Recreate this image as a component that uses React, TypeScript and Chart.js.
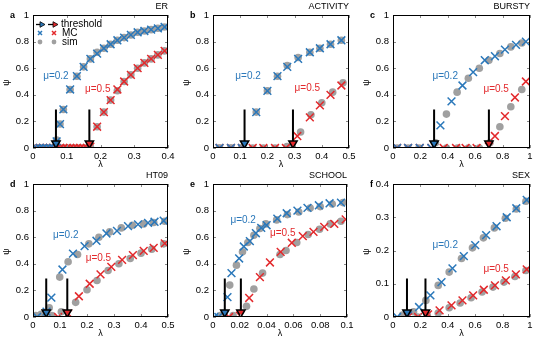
import React, { useEffect, useRef } from 'react';
import { Chart, registerables } from 'chart.js';
Chart.register(...registerables);

const BLUE = '#2b78ba';
const RED = '#e3292c';
const GREY = '#a0a0a0';
const FONT = "'Liberation Sans', Arial, Helvetica, sans-serif";

// ---------- tick labels ----------
const yTicksUnit = [0, 0.2, 0.4, 0.6, 0.8, 1];
const yTicksSex = [0, 0.1, 0.2, 0.3, 0.4];
const erXTicks = [0, 0.1, 0.2, 0.3, 0.4];
const acXTicks = [0, 0.1, 0.2, 0.3, 0.4, 0.5];
const buXTicks = [0, 0.2, 0.4, 0.6, 0.8, 1];
const htXTicks = [0, 0.1, 0.2, 0.3, 0.4, 0.5];
const scXTicks = [0, 0.02, 0.04, 0.06, 0.08, 0.1];
const sxXTicks = [0, 0.2, 0.4, 0.6, 0.8, 1];

// ---------- a: ER ----------
const erBlueMcX = [0.01, 0.02, 0.03, 0.04, 0.05, 0.06, 0.07, 0.08, 0.09, 0.11, 0.13, 0.15, 0.17, 0.19, 0.21, 0.23, 0.25, 0.27, 0.29, 0.31, 0.33, 0.35, 0.37, 0.39];
const erBlueMc = [0, 0, 0, 0, 0, 0, 0.05, 0.18, 0.29, 0.44, 0.54, 0.61, 0.67, 0.71, 0.75, 0.78, 0.81, 0.83, 0.85, 0.87, 0.88, 0.89, 0.9, 0.91];
const erBlueSimX = [0.01, 0.02, 0.03, 0.04, 0.05, 0.06, 0.07, 0.08, 0.09, 0.11, 0.13, 0.15, 0.17, 0.19, 0.21, 0.23, 0.25, 0.27, 0.29, 0.31, 0.33, 0.35, 0.37, 0.39];
const erBlueSim = [0, 0, 0, 0, 0, 0, 0.06, 0.18, 0.29, 0.44, 0.54, 0.61, 0.67, 0.72, 0.75, 0.78, 0.81, 0.83, 0.85, 0.87, 0.88, 0.89, 0.9, 0.91];
const erRedMcX = [0.01, 0.02, 0.03, 0.04, 0.05, 0.06, 0.07, 0.08, 0.09, 0.1, 0.11, 0.12, 0.13, 0.14, 0.15, 0.16, 0.17, 0.19, 0.21, 0.23, 0.25, 0.27, 0.29, 0.31, 0.33, 0.35, 0.37, 0.39];
const erRedMc = [0, 0, 0, 0, 0, 0, 0, 0, 0, 0, 0, 0, 0, 0, 0, 0, 0.01, 0.16, 0.27, 0.36, 0.44, 0.5, 0.55, 0.6, 0.64, 0.67, 0.7, 0.73];
const erRedSimX = [0.01, 0.02, 0.03, 0.04, 0.05, 0.06, 0.07, 0.08, 0.09, 0.1, 0.11, 0.12, 0.13, 0.14, 0.15, 0.16, 0.17, 0.19, 0.21, 0.23, 0.25, 0.27, 0.29, 0.31, 0.33, 0.35, 0.37, 0.39];
const erRedSim = [0, 0, 0, 0, 0, 0, 0, 0, 0, 0, 0, 0, 0, 0, 0, 0, 0.01, 0.16, 0.27, 0.36, 0.43, 0.5, 0.55, 0.6, 0.64, 0.67, 0.7, 0.73];
const erThreshold = [0.068, 0.167];

// ---------- b: ACTIVITY ----------
const acBlueMcX = [0.024, 0.066, 0.106, 0.159, 0.2, 0.237, 0.273, 0.313, 0.356, 0.393, 0.432, 0.472];
const acBlueMc = [0, 0, 0, 0.27, 0.43, 0.54, 0.61, 0.67, 0.72, 0.75, 0.78, 0.81];
const acBlueSimX = [0.024, 0.066, 0.106, 0.159, 0.2, 0.237, 0.273, 0.313, 0.356, 0.393, 0.432, 0.472];
const acBlueSim = [0, 0, 0, 0.27, 0.43, 0.54, 0.62, 0.68, 0.72, 0.75, 0.78, 0.81];
const acRedMcX = [0.024, 0.066, 0.106, 0.146, 0.185, 0.228, 0.268, 0.31, 0.356, 0.393, 0.432, 0.472];
const acRedMc = [0, 0, 0, 0, 0, 0, 0, 0.09, 0.23, 0.32, 0.4, 0.47];
const acRedSimX = [0.024, 0.066, 0.106, 0.146, 0.185, 0.228, 0.272, 0.322, 0.36, 0.4, 0.44, 0.478];
const acRedSim = [0, 0, 0, 0, 0, 0, 0.01, 0.12, 0.25, 0.34, 0.42, 0.49];
const acThreshold = [0.116, 0.294];

// ---------- c: BURSTY ----------
const buBlueMcX = [0.03, 0.11, 0.195, 0.28, 0.346, 0.427, 0.507, 0.585, 0.67, 0.744, 0.817, 0.898, 0.97];
const buBlueMc = [0, 0, 0, 0, 0.17, 0.35, 0.47, 0.57, 0.66, 0.69, 0.74, 0.775, 0.8];
const buBlueSimX = [0.03, 0.11, 0.19, 0.31, 0.39, 0.468, 0.55, 0.63, 0.7, 0.78, 0.86, 0.94];
const buBlueSim = [0, 0, 0, 0.04, 0.255, 0.42, 0.525, 0.6, 0.66, 0.71, 0.76, 0.79];
const buRedMcX = [0.03, 0.11, 0.195, 0.28, 0.37, 0.46, 0.53, 0.61, 0.7, 0.744, 0.817, 0.89, 0.97];
const buRedMc = [0, 0, 0, 0, 0, 0, 0, 0, 0.01, 0.09, 0.24, 0.38, 0.5];
const buRedSimX = [0.39, 0.47, 0.55, 0.63, 0.707, 0.78, 0.86, 0.94];
const buRedSim = [0, 0, 0, 0, 0.04, 0.16, 0.31, 0.44];
const buThreshold = [0.3, 0.7];

// ---------- d: HT09 ----------
const htBlueMcX = [0.015, 0.05, 0.068, 0.109, 0.148, 0.191, 0.235, 0.272, 0.311, 0.352, 0.389, 0.426, 0.45, 0.484];
const htBlueMc = [0, 0.04, 0.146, 0.357, 0.477, 0.533, 0.573, 0.628, 0.648, 0.683, 0.696, 0.708, 0.716, 0.724];
const htBlueSimX = [0.01, 0.03, 0.06, 0.099, 0.13, 0.165, 0.207, 0.244, 0.284, 0.327, 0.368, 0.41, 0.447, 0.488];
const htBlueSim = [0.01, 0.02, 0.07, 0.3, 0.415, 0.47, 0.55, 0.6, 0.64, 0.67, 0.69, 0.7, 0.71, 0.72];
const htRedMcX = [0.093, 0.13, 0.17, 0.21, 0.25, 0.29, 0.33, 0.37, 0.41, 0.447, 0.488];
const htRedMc = [0, 0.025, 0.156, 0.25, 0.32, 0.377, 0.43, 0.465, 0.497, 0.52, 0.553];
const htRedSimX = [0.07, 0.105, 0.158, 0.2, 0.237, 0.278, 0.318, 0.36, 0.4, 0.44, 0.484];
const htRedSim = [0.01, 0.04, 0.11, 0.205, 0.275, 0.35, 0.4, 0.44, 0.48, 0.51, 0.55];
const htThreshold = [0.049, 0.127];

// ---------- e: SCHOOL ----------
const scBlueMcX = [0.001, 0.004, 0.0108, 0.0138, 0.0195, 0.023, 0.0275, 0.032, 0.036, 0.04, 0.048, 0.055, 0.063, 0.0705, 0.079, 0.087, 0.0955];
const scBlueMc = [0, 0, 0.15, 0.33, 0.44, 0.53, 0.57, 0.63, 0.67, 0.69, 0.74, 0.78, 0.8, 0.82, 0.84, 0.855, 0.86];
const scBlueSimX = [0.0055, 0.0125, 0.0175, 0.022, 0.026, 0.0305, 0.035, 0.0395, 0.0475, 0.0555, 0.064, 0.0725, 0.08, 0.089, 0.097];
const scBlueSim = [0.01, 0.24, 0.39, 0.49, 0.56, 0.615, 0.665, 0.7, 0.73, 0.77, 0.79, 0.82, 0.83, 0.85, 0.86];
const scRedMcX = [0.012, 0.02, 0.027, 0.035, 0.0425, 0.0505, 0.0588, 0.067, 0.075, 0.083, 0.0905, 0.099];
const scRedMc = [0, 0.01, 0.143, 0.3, 0.41, 0.49, 0.558, 0.608, 0.64, 0.678, 0.7, 0.734];
const scRedSimX = [0.015, 0.025, 0.0305, 0.037, 0.05, 0.0545, 0.0625, 0.071, 0.0795, 0.0875, 0.0955];
const scRedSim = [0.01, 0.08, 0.21, 0.33, 0.47, 0.5, 0.56, 0.62, 0.66, 0.7, 0.72];
const scThreshold = [0.0088, 0.0208];

// ---------- f: SEX ----------
const sxBlueMcX = [0.03, 0.11, 0.19, 0.273, 0.354, 0.434, 0.517, 0.6, 0.68, 0.756, 0.83, 0.9, 0.976];
const sxBlueMc = [0, 0.005, 0.03, 0.065, 0.105, 0.146, 0.183, 0.216, 0.246, 0.273, 0.3, 0.327, 0.352];
const sxBlueSimX = [0.07, 0.15, 0.24, 0.33, 0.41, 0.5, 0.58, 0.66, 0.74, 0.82, 0.9, 0.97];
const sxBlueSim = [0.006, 0.016, 0.05, 0.095, 0.135, 0.176, 0.208, 0.238, 0.268, 0.297, 0.325, 0.348];
const sxRedMcX = [0.11, 0.183, 0.256, 0.34, 0.427, 0.507, 0.585, 0.663, 0.744, 0.824, 0.897, 0.976];
const sxRedMc = [0, 0, 0.008, 0.02, 0.035, 0.05, 0.065, 0.082, 0.095, 0.11, 0.128, 0.143];
const sxRedSimX = [0.18, 0.25, 0.33, 0.41, 0.49, 0.57, 0.65, 0.73, 0.81, 0.89, 0.97];
const sxRedSim = [0, 0.005, 0.012, 0.028, 0.042, 0.058, 0.075, 0.09, 0.105, 0.122, 0.14];
const sxThreshold = [0.102, 0.237];

const muLabels = ['μ=0.2', 'μ=0.5'];

type PanelDef = {
  letter: string; name: string; left: number; top: number;
  xMax: number; yMax: number; xTicks: number[]; yTicks: number[];
  blueMcX: number[]; blueMc: number[]; blueSimX: number[]; blueSim: number[];
  redMcX: number[]; redMc: number[]; redSimX: number[]; redSim: number[];
  thr: number[]; lab: number[][]; legend?: boolean;
  padTop: number; padRight: number; xH: number;
};

const panels: PanelDef[] = [
  { letter: 'a', name: 'ER', left: 0, top: 0, xMax: 0.4, yMax: 1, xTicks: erXTicks, yTicks: yTicksUnit,
    blueMcX: erBlueMcX, blueMc: erBlueMc, blueSimX: erBlueSimX, blueSim: erBlueSim,
    redMcX: erRedMcX, redMc: erRedMc, redSimX: erRedSimX, redSim: erRedSim,
    thr: erThreshold, lab: [[0.03, 0.54], [0.154, 0.44]], legend: true, padTop: 15, padRight: 12, xH: 22 },
  { letter: 'b', name: 'ACTIVITY', left: 180, top: 0, xMax: 0.5, yMax: 1, xTicks: acXTicks, yTicks: yTicksUnit,
    blueMcX: acBlueMcX, blueMc: acBlueMc, blueSimX: acBlueSimX, blueSim: acBlueSim,
    redMcX: acRedMcX, redMc: acRedMc, redSimX: acRedSimX, redSim: acRedSim,
    thr: acThreshold, lab: [[0.082, 0.54], [0.3, 0.45]], padTop: 15, padRight: 11, xH: 22 },
  { letter: 'c', name: 'BURSTY', left: 360, top: 0, xMax: 1, yMax: 1, xTicks: buXTicks, yTicks: yTicksUnit,
    blueMcX: buBlueMcX, blueMc: buBlueMc, blueSimX: buBlueSimX, blueSim: buBlueSim,
    redMcX: buRedMcX, redMc: buRedMc, redSimX: buRedSimX, redSim: buRedSim,
    thr: buThreshold, lab: [[0.288, 0.54], [0.66, 0.44]], padTop: 15, padRight: 10, xH: 22 },
  { letter: 'd', name: 'HT09', left: 0, top: 170, xMax: 0.5, yMax: 1, xTicks: htXTicks, yTicks: yTicksUnit,
    blueMcX: htBlueMcX, blueMc: htBlueMc, blueSimX: htBlueSimX, blueSim: htBlueSim,
    redMcX: htRedMcX, redMc: htRedMc, redSimX: htRedSimX, redSim: htRedSim,
    thr: htThreshold, lab: [[0.074, 0.615], [0.195, 0.44]], padTop: 14, padRight: 12, xH: 23 },
  { letter: 'e', name: 'SCHOOL', left: 180, top: 170, xMax: 0.1, yMax: 1, xTicks: scXTicks, yTicks: yTicksUnit,
    blueMcX: scBlueMcX, blueMc: scBlueMc, blueSimX: scBlueSimX, blueSim: scBlueSim,
    redMcX: scRedMcX, redMc: scRedMc, redSimX: scRedSimX, redSim: scRedSim,
    thr: scThreshold, lab: [[0.013, 0.73], [0.0425, 0.63]], padTop: 14, padRight: 13, xH: 23 },
  { letter: 'f', name: 'SEX', left: 360, top: 170, xMax: 1, yMax: 0.4, xTicks: sxXTicks, yTicks: yTicksSex,
    blueMcX: sxBlueMcX, blueMc: sxBlueMc, blueSimX: sxBlueSimX, blueSim: sxBlueSim,
    redMcX: sxRedMcX, redMc: sxRedMc, redSimX: sxRedSimX, redSim: sxRedSim,
    thr: sxThreshold, lab: [[0.288, 0.216], [0.66, 0.144]], padTop: 14, padRight: 10, xH: 23 },
];

const pts = (xs: number[], ys: number[]) => xs.map((x, i) => ({ x, y: ys[i] }));

function drawArrowRight(ctx: CanvasRenderingContext2D, x0: number, x1: number, y: number, col: string) {
  ctx.strokeStyle = '#000';
  ctx.lineWidth = 1.3;
  ctx.beginPath();
  ctx.moveTo(x0, y);
  ctx.lineTo(x1 - 4, y);
  ctx.stroke();
  ctx.fillStyle = col;
  ctx.lineWidth = 0.8;
  ctx.beginPath();
  ctx.moveTo(x1, y);
  ctx.lineTo(x1 - 5, y - 2.8);
  ctx.lineTo(x1 - 5, y + 2.8);
  ctx.closePath();
  ctx.fill();
  ctx.stroke();
}

function drawCross(ctx: CanvasRenderingContext2D, x: number, y: number, r: number, col: string) {
  ctx.strokeStyle = col;
  ctx.lineWidth = 1.5;
  ctx.beginPath();
  ctx.moveTo(x - r, y - r); ctx.lineTo(x + r, y + r);
  ctx.moveTo(x + r, y - r); ctx.lineTo(x - r, y + r);
  ctx.stroke();
}

function makeDeco(p: PanelDef) {
  return {
    id: 'deco' + p.letter,
    afterDatasetsDraw(chart: any) {
      const { ctx, chartArea: ca, scales } = chart;
      const xs = scales.x, ys = scales.y;
      ctx.save();
      ctx.strokeStyle = '#8a8a8a';
      ctx.lineWidth = 1;
      ctx.beginPath();
      p.xTicks.forEach((v) => {
        const px = Math.round(xs.getPixelForValue(v)) + 0.5;
        ctx.moveTo(px, ca.bottom); ctx.lineTo(px, ca.bottom - 3);
        ctx.moveTo(px, ca.top); ctx.lineTo(px, ca.top + 3);
      });
      p.yTicks.forEach((v) => {
        const py = Math.round(ys.getPixelForValue(v)) + 0.5;
        ctx.moveTo(ca.left, py); ctx.lineTo(ca.left + 3, py);
        ctx.moveTo(ca.right, py); ctx.lineTo(ca.right - 3, py);
      });
      ctx.stroke();
      ctx.strokeStyle = '#000';
      ctx.lineWidth = 1;
      ctx.strokeRect(ca.left + 0.5, ca.top + 0.5, ca.right - ca.left - 1, ca.bottom - ca.top - 1);
      ctx.restore();
    },
    afterDraw(chart: any) {
      const { ctx, chartArea: ca, scales } = chart;
      const xs = scales.x, ys = scales.y;
      ctx.save();
      ctx.font = `10px ${FONT}`;
      ctx.textAlign = 'left';
      ctx.textBaseline = 'middle';
      ctx.fillStyle = BLUE;
      ctx.fillText(muLabels[0], xs.getPixelForValue(p.lab[0][0]), ys.getPixelForValue(p.lab[0][1]));
      ctx.fillStyle = RED;
      ctx.fillText(muLabels[1], xs.getPixelForValue(p.lab[1][0]), ys.getPixelForValue(p.lab[1][1]));
      ctx.fillStyle = '#000';
      ctx.font = `9px ${FONT}`;
      ctx.textAlign = 'right';
      ctx.fillText(p.name, ca.right, ca.top - 8);
      ctx.font = `bold 9px ${FONT}`;
      ctx.textAlign = 'left';
      ctx.fillText(p.letter, 10, ca.top + 1);
      ctx.font = `9px ${FONT}`;
      ctx.textAlign = 'center';
      ctx.fillText('λ', (ca.left + ca.right) / 2, ca.bottom + 17);
      ctx.save();
      ctx.translate(7, (ca.top + ca.bottom) / 2 + 1);
      ctx.rotate(-Math.PI / 2);
      ctx.fillText('ψ', 0, 0);
      ctx.restore();
      if (p.legend) {
        const lx = ca.left;
        const r1 = ca.top + 9.5, r2 = ca.top + 18, r3 = ca.top + 27;
        drawArrowRight(ctx, lx + 3, lx + 12, r1, BLUE);
        drawArrowRight(ctx, lx + 15, lx + 25, r1, RED);
        drawCross(ctx, lx + 7, r2, 2, BLUE);
        drawCross(ctx, lx + 21, r2, 2, RED);
        ctx.fillStyle = GREY;
        ctx.beginPath(); ctx.arc(lx + 7, r3, 2.4, 0, Math.PI * 2); ctx.fill();
        ctx.beginPath(); ctx.arc(lx + 21, r3, 2.4, 0, Math.PI * 2); ctx.fill();
        ctx.fillStyle = '#000';
        ctx.font = `10px ${FONT}`;
        ctx.textAlign = 'left';
        ctx.textBaseline = 'middle';
        ctx.fillText('threshold', lx + 28, r1);
        ctx.fillText('MC', lx + 29, r2);
        ctx.fillText('sim', lx + 29, r3);
      }
      ctx.restore();
    },
  };
}

function buildConfig(p: PanelDef): any {
  const top = 0.29 * p.yMax;
  const triY = 0.035 * p.yMax;
  const arrowLine = (x: number) => ({
    data: [{ x, y: top }, { x, y: triY }],
    showLine: true, borderColor: '#000', borderWidth: 2, pointRadius: 0, order: 1,
  });
  const tri = (x: number, col: string) => ({
    data: [{ x, y: triY }],
    pointStyle: 'triangle', pointRotation: 180, pointRadius: 4.8,
    pointBackgroundColor: col, pointBorderColor: '#000', pointBorderWidth: 1.5, order: 0,
  });
  const mc = (xs: number[], ys: number[], col: string, order: number) => ({
    data: pts(xs, ys), pointStyle: 'crossRot', pointRadius: 5.5, pointBorderWidth: 1.5,
    pointBorderColor: col, pointBackgroundColor: col, showLine: false, order,
  });
  const sim = (xs: number[], ys: number[]) => ({
    data: pts(xs, ys), pointStyle: 'circle', pointRadius: 3.8, pointBorderWidth: 0,
    pointBackgroundColor: GREY, pointBorderColor: GREY, showLine: false, order: 5,
  });
  const tickFont = { family: FONT, size: 9.5 };
  return {
    type: 'scatter',
    data: {
      datasets: [
        arrowLine(p.thr[0]), arrowLine(p.thr[1]),
        tri(p.thr[0], BLUE), tri(p.thr[1], RED),
        mc(p.blueMcX, p.blueMc, BLUE, 2),
        mc(p.redMcX, p.redMc, RED, 3),
        sim(p.blueSimX, p.blueSim),
        sim(p.redSimX, p.redSim),
      ],
    },
    options: {
      responsive: false,
      animation: false,
      events: [],
      layout: { padding: { left: 0, right: p.padRight, top: p.padTop, bottom: 0 } },
      plugins: { legend: { display: false }, tooltip: { enabled: false } },
      scales: {
        x: {
          type: 'linear', min: 0, max: p.xMax,
          afterBuildTicks: (s: any) => { s.ticks = p.xTicks.map((v) => ({ value: v })); },
          afterFit: (s: any) => { s.height = p.xH; },
          grid: { display: false, drawTicks: false },
          border: { display: false },
          ticks: { autoSkip: false, maxRotation: 0, padding: 3, color: '#000', font: tickFont, callback: (v: number) => String(v) },
        },
        y: {
          type: 'linear', min: 0, max: p.yMax,
          afterBuildTicks: (s: any) => { s.ticks = p.yTicks.map((v) => ({ value: v })); },
          afterFit: (s: any) => { s.width = 33; },
          grid: { display: false, drawTicks: false },
          border: { display: false },
          ticks: { autoSkip: false, padding: 4, color: '#000', font: tickFont, callback: (v: number) => String(v) },
        },
      },
    },
    plugins: [makeDeco(p)],
  };
}

function Panel({ p }: { p: PanelDef }) {
  const ref = useRef<HTMLCanvasElement>(null);
  useEffect(() => {
    const chart = new Chart(ref.current as HTMLCanvasElement, buildConfig(p));
    return () => chart.destroy();
  }, []);
  return (
    <canvas
      ref={ref}
      width={180}
      height={170}
      style={{ position: 'absolute', left: p.left, top: p.top, width: 180, height: 170 }}
    />
  );
}

export default function App() {
  return (
    <div style={{ position: 'absolute', left: 0, top: 0, width: 545, height: 340, background: '#fff' }}>
      {panels.map((p) => (
        <Panel key={p.letter} p={p} />
      ))}
    </div>
  );
}
